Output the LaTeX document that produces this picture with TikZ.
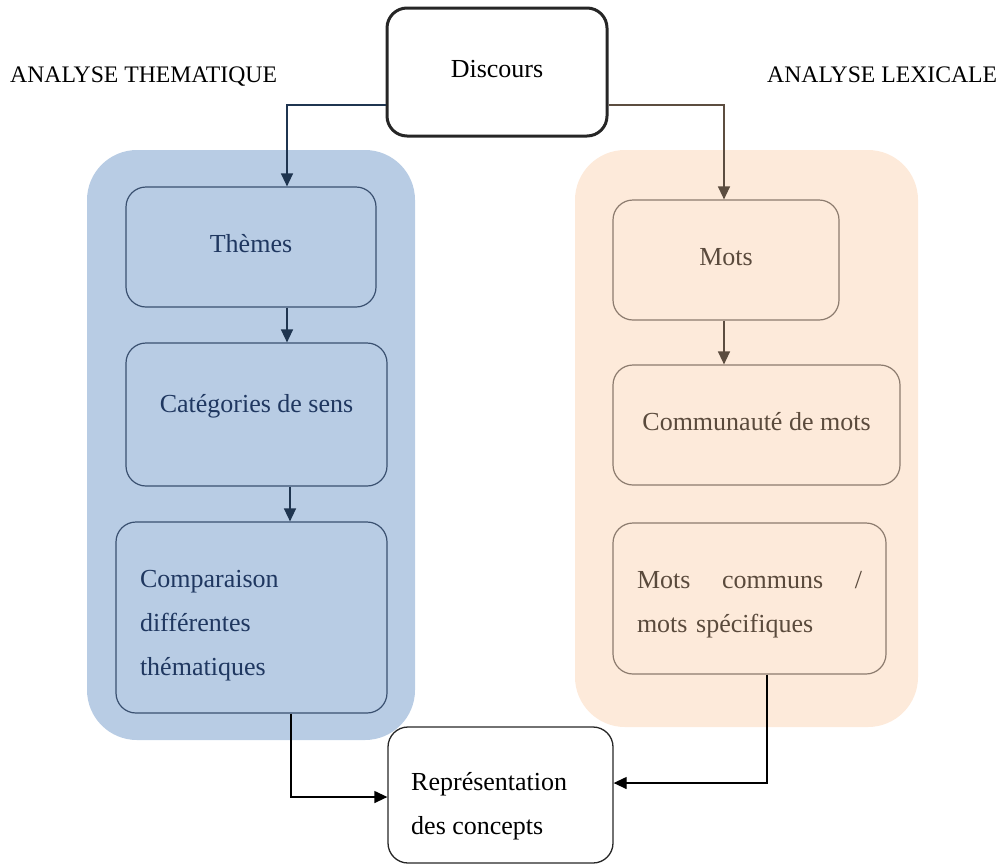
\documentclass[tikz,border=0pt]{standalone}
\usepackage{fontspec}
\setmainfont{Liberation Serif}
\usetikzlibrary{arrows.meta}
\definecolor{bluebg}{HTML}{B8CCE4}
\definecolor{peachbg}{HTML}{FDEADA}
\definecolor{bluetext}{HTML}{1F3760}
\definecolor{blueline}{HTML}{3A5070}
\definecolor{bluearrow}{HTML}{1F3550}
\definecolor{browntext}{HTML}{5A4A3C}
\definecolor{brownline}{HTML}{8C7B6E}
\definecolor{brownarrow}{HTML}{5C4D40}
\begin{document}
\begin{tikzpicture}[x=1pt,y=-1pt,
  txt/.style={font=\fontsize{26}{44}\selectfont},
  bbox/.style={draw=blueline, line width=1.2pt, rounded corners=20pt, inner sep=0pt, text=bluetext, txt},
  pbox/.style={draw=brownline, line width=1.2pt, rounded corners=20pt, inner sep=0pt, text=browntext, txt},
  kbox/.style={draw=black!85, rounded corners=20pt, inner sep=0pt, txt},
  tip/.style={-{Triangle[length=13pt,width=12pt]}},
  title/.style={font=\fontsize{23.7}{26}\selectfont, inner sep=0pt, anchor=base west}]
\useasboundingbox (0,0) rectangle (1000,865);
% backgrounds
\fill[bluebg, rounded corners=50pt] (87,150) rectangle (415,740);
\fill[peachbg, rounded corners=50pt] (575,150) rectangle (918,727);
% titles
\node[title] (tl) at (10,82) {ANALYSE THEMATIQUE};
\node[title] (tr) at (767,82) {ANALYSE LEXICALE};
% top
\node[kbox, line width=3pt, minimum width=220pt, minimum height=128pt] (disc) at (497,72) {\raisebox{6pt}{Discours}};
% left column
\node[bbox, minimum width=250pt, minimum height=120pt] (themes) at (251,247) {\raisebox{8pt}{Thèmes}};
\node[bbox, minimum width=261pt, minimum height=143pt] (cat) at (256.5,414.5) {\raisebox{22pt}{Catégories de sens}};
\node[bbox, minimum width=271pt, minimum height=191pt, text width=223pt, align=left] (comp) at (251.5,617.5) {\rule{0pt}{34pt}Comparaison\\différentes\\thématiques};
% right column
\node[pbox, minimum width=226pt, minimum height=120pt] (mots) at (726,260) {\raisebox{6pt}{Mots}};
\node[pbox, minimum width=287pt, minimum height=120pt] (comm) at (756.5,425) {\raisebox{7pt}{Communauté de mots}};
\node[pbox, minimum width=273pt, minimum height=151pt, text width=225pt, align=left] (mc) at (749.5,598.5) {\hbox to 225pt{\rule{0pt}{30pt}Mots\hfill communs\hfill /}\\mots spécifiques};
% bottom
\node[kbox, line width=1.3pt, minimum width=225pt, minimum height=136pt] (rep) at (500.5,795) {};
\node[txt, anchor=west, align=left, inner sep=0pt] (reptext) at (411,806) {Représentation\\des concepts};
% connectors
\draw[tip, bluearrow, line width=1.4pt] ([yshift=-33pt]disc.west) -| ([xshift=36pt]themes.north);
\draw[tip, brownarrow, line width=1.4pt] ([yshift=-33pt]disc.east) -| ([xshift=-2pt]mots.north);
\draw[tip, bluearrow, line width=1.4pt] ([xshift=36pt]themes.south) -- ([xshift=30.5pt]cat.north);
\draw[tip, bluearrow, line width=1.4pt] ([xshift=33.5pt]cat.south) -- ([xshift=38.5pt]comp.north);
\draw[tip, brownarrow, line width=1.4pt] ([xshift=-2pt]mots.south) -- ([xshift=-32.5pt]comm.north);
\draw[tip, black, line width=1.3pt] ([xshift=39.5pt]comp.south) |- ([yshift=-2pt]rep.west);
\draw[tip, black, line width=1.3pt] ([xshift=17.5pt]mc.south) |- ([yshift=12pt]rep.east);
\end{tikzpicture}
\end{document}
